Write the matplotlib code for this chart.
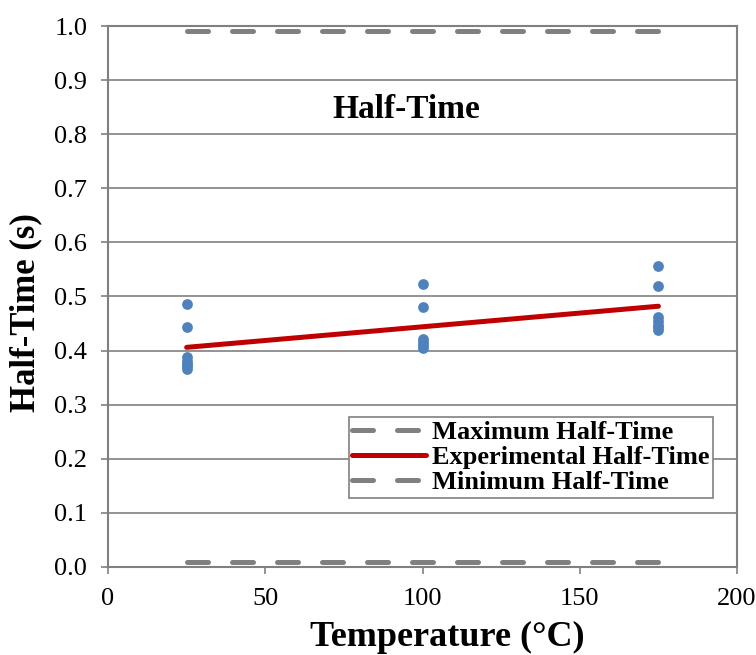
import matplotlib
matplotlib.use('Agg')
import matplotlib.pyplot as plt
import numpy as np

plt.rcParams['font.family'] = ['Liberation Serif', 'DejaVu Serif']

# measured half-times at each temperature
temp_points = [25, 25, 25, 25, 25, 25, 25,
               100, 100, 100, 100, 100, 100,
               175, 175, 175, 175, 175, 175, 175]
half_time_points = [0.486, 0.444, 0.388, 0.381, 0.376, 0.371, 0.366,
                    0.523, 0.480, 0.422, 0.416, 0.410, 0.405,
                    0.557, 0.520, 0.462, 0.455, 0.448, 0.443, 0.438]

# fitted line and bounds
line_temps = [25, 175]
experimental = [0.406, 0.482]
maximum = [0.99, 0.99]
minimum = [0.01, 0.01]

gray = '#808080'

fig = plt.figure(figsize=(7.56, 6.55), dpi=100)
ax = fig.add_axes([0.1429, 0.1344, 0.832, 0.8259])

ax.scatter(temp_points, half_time_points, s=60, color='#4F81BD', zorder=3, linewidths=0)
ax.plot(line_temps, maximum, color=gray, lw=3.6, dashes=(4.2, 4.8),
        dash_capstyle='round', label='Maximum Half-Time', zorder=2)
ax.plot(line_temps, experimental, color='#C00000', lw=3.6,
        solid_capstyle='round', label='Experimental Half-Time', zorder=4)
ax.plot(line_temps, minimum, color=gray, lw=3.6, dashes=(4.2, 4.8),
        dash_capstyle='round', label='Minimum Half-Time', zorder=2)

ax.set_xlim(0, 200)
ax.set_ylim(0, 1.0)
ax.set_xticks(np.arange(0, 201, 50))
ax.set_yticks(np.arange(0, 1.01, 0.1))
ax.set_yticklabels(['%.1f' % v for v in np.arange(0, 1.01, 0.1)])
ax.grid(axis='y', color=gray, lw=1.2)
ax.set_axisbelow(True)
for s in ax.spines.values():
    s.set_color(gray)
    s.set_linewidth(1.5)
ax.tick_params(axis='both', labelsize=19, color=gray, width=1.2, length=5,
               direction='out', pad=10)

ax.set_xlabel('Temperature (\u00b0C)', fontsize=26, fontweight='bold', va='center')
ax.xaxis.set_label_coords(0.54, -0.131)
ax.set_ylabel('Half-Time (s)', fontsize=25, fontweight='bold', va='center')
ax.yaxis.set_label_coords(-0.13, 0.47)
ax.text(0.474, 0.846, 'Half-Time', transform=ax.transAxes, ha='center', va='center',
        fontsize=24, fontweight='bold')

leg = ax.legend(loc='lower right', bbox_to_anchor=(0.962, 0.1275), borderaxespad=0,
                fancybox=False, edgecolor=gray, framealpha=1,
                prop={'size': 19, 'weight': 'bold'}, handlelength=2.8,
                handletextpad=0.2, labelspacing=0.05, borderpad=0.15)
leg.get_frame().set_linewidth(1.2)

fig.savefig('out.png', dpi=100)
